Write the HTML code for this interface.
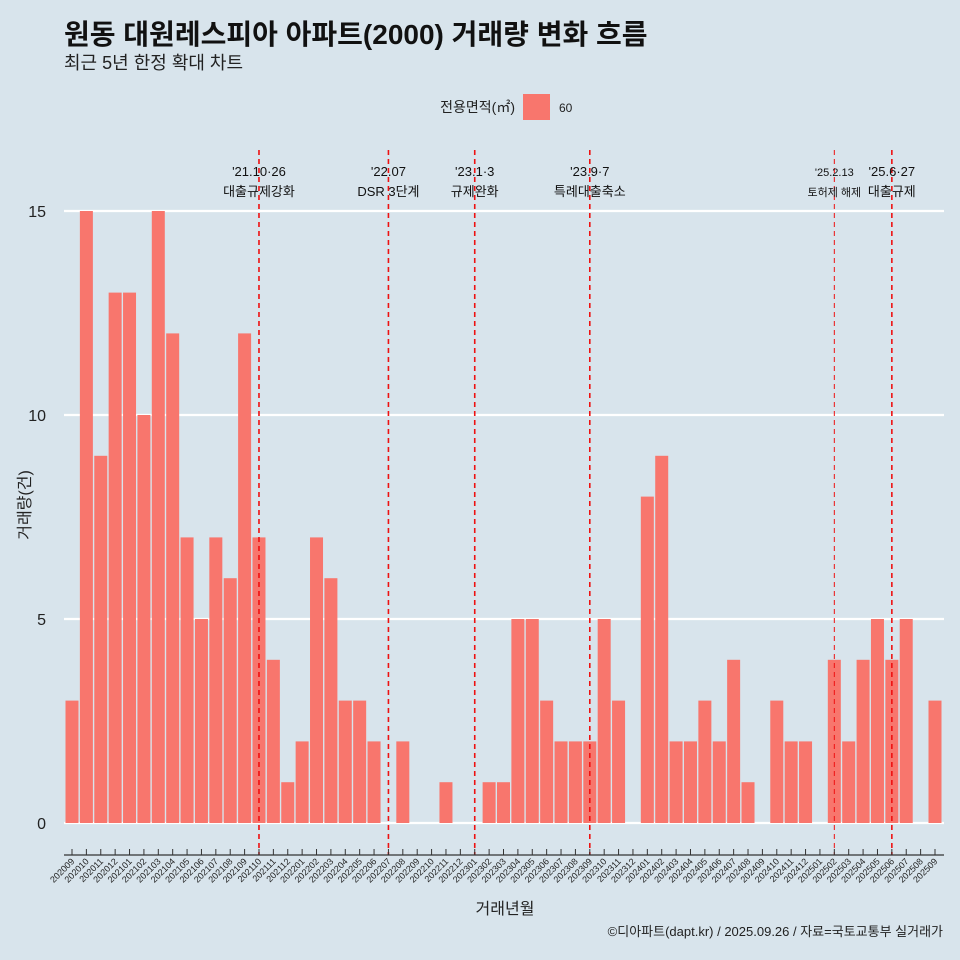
<!DOCTYPE html>
<html><head><meta charset="utf-8">
<style>
html,body{margin:0;padding:0;background:#d8e4ec;}
svg{display:block;font-family:"Liberation Sans","Noto Sans CJK KR",sans-serif;}
</style></head>
<body>
<svg id="chart" width="960" height="960" viewBox="0 0 960 960">
<rect x="0" y="0" width="960" height="960" fill="#d8e4ec"/>
<text x="64" y="44" font-size="28" font-weight="bold" fill="#111">원동 대원레스피아 아파트(2000) 거래량 변화 흐름</text>
<text x="64" y="69" font-size="18" fill="#222">최근 5년 한정 확대 차트</text>
<g>
<text x="515" y="112" font-size="14" text-anchor="end" fill="#222">전용면적(㎡)</text>
<rect x="523" y="94" width="27" height="26" fill="#f8766d"/>
<text x="559" y="112" font-size="12" fill="#222">60</text>
</g>
<g id="grid"></g>
<g id="bars"></g>
<g id="events"></g>
<g id="xaxis"></g>
<text x="30" y="505" font-size="16" fill="#222" text-anchor="middle" transform="rotate(-90 30 505)">거래량(건)</text>
<text x="505" y="914" font-size="16" fill="#222" text-anchor="middle">거래년월</text>
<text x="943" y="936" font-size="13" fill="#222" text-anchor="end">©디아파트(dapt.kr) / 2025.09.26 / 자료=국토교통부 실거래가</text>
</svg>
<script>
const months = ["202009","202010","202011","202012","202101","202102","202103","202104","202105","202106","202107","202108","202109","202110","202111","202112","202201","202202","202203","202204","202205","202206","202207","202208","202209","202210","202211","202212","202301","202302","202303","202304","202305","202306","202307","202308","202309","202310","202311","202312","202401","202402","202403","202404","202405","202406","202407","202408","202409","202410","202411","202412","202501","202502","202503","202504","202505","202506","202507","202508","202509"];
const counts = [3,15,9,13,13,10,15,12,7,5,7,6,12,7,4,1,2,7,6,3,3,2,0,2,0,0,1,0,0,1,1,5,5,3,2,2,2,5,3,0,8,9,2,2,3,2,4,1,0,3,2,2,0,4,2,4,5,4,5,0,3];
const yTicks = [0,5,10,15];
const eventMonths = ["202110","202207","202301","202309","202502","202506"];
const eventLine1 = ["'21.10·26","'22.07","'23.1·3","'23.9·7","'25.2.13","'25.6·27"];
const eventLine2 = ["대출규제강화","DSR 3단계","규제완화","특례대출축소","토허제 해제","대출규제"];
const eventMinor = [false,false,false,false,true,false];

const NS="http://www.w3.org/2000/svg";
const x0=72, x1=935, y0=823, yPer=(823-211)/15;
const xs=i=>x0+i*(x1-x0)/(months.length-1);
const ys=v=>y0-v*yPer;
function mk(tag,attrs,parent){const e=document.createElementNS(NS,tag);for(const k in attrs)e.setAttribute(k,attrs[k]);parent.appendChild(e);return e;}
const grid=document.getElementById('grid'),bars=document.getElementById('bars'),ev=document.getElementById('events'),xa=document.getElementById('xaxis');
yTicks.forEach(t=>{
  const l=mk('line',{x1:64,x2:944,y1:ys(t),y2:ys(t),stroke:'#fff','stroke-width':2.2},grid);
  
  
  const tx=mk('text',{x:46,y:ys(t)+6,'font-size':16,'text-anchor':'end',fill:'#222'},grid);
  tx.textContent=t;
  
  
});
const bw=13;
counts.forEach((v,i)=>{
  if(v<=0)return;
  const r=mk('rect',{x:xs(i)-bw/2,y:ys(v),width:bw,height:ys(0)-ys(v),fill:'#f8766d'},bars);
  
  
});
eventMonths.forEach((m,k)=>{
  const i=months.indexOf(m);const x=xs(i);
  const l=mk('line',{x1:x,x2:x,y1:150,y2:855,stroke:'#ee1111','stroke-width':eventMinor[k]?1:1.6,'stroke-dasharray':'5,4'},ev);
  
  
  const fs=eventMinor[k]?11:13;
  const a=mk('text',{x:x,y:176,'font-size':fs,'text-anchor':'middle',fill:'#111'},ev);
  a.textContent=eventLine1[k];
  
  
  const b=mk('text',{x:x,y:196,'font-size':fs,'text-anchor':'middle',fill:'#111'},ev);
  b.textContent=eventLine2[k];
  
  
});
const ax=mk('line',{x1:64,x2:944,y1:855,y2:855,stroke:'#333','stroke-width':1.2},xa);


months.forEach((m,i)=>{
  const x=xs(i);
  const t=mk('line',{x1:x,x2:x,y1:849,y2:855,stroke:'#333','stroke-width':1},xa);
  
  
  const tx=mk('text',{x:x+3,y:862,'font-size':9,'text-anchor':'end',fill:'#222',transform:`rotate(-45 ${x+3} 862)`},xa);
  tx.textContent=m;
  
  
});
</script>
</body></html>
